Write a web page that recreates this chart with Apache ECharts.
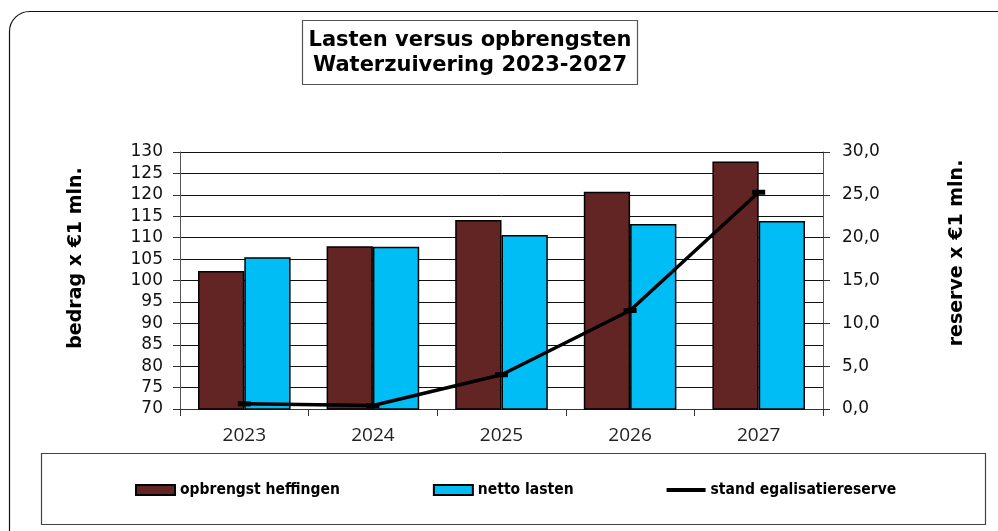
<!DOCTYPE html>
<html>
<head>
<meta charset="utf-8">
<script src="https://cdn.jsdelivr.net/npm/echarts@6/dist/echarts.min.js"></script>
<style>
html,body{margin:0;padding:0;background:#fff;}
#chart{width:998px;height:531px;}
</style>
</head>
<body>
<div id="chart"></div>
<script>
const categories = ['2023', '2024', '2025', '2026', '2027'];
const opbrengstHeffingen = [102.2, 108.0, 114.1, 120.7, 127.8];
const nettoLasten = [105.4, 107.9, 110.6, 113.2, 113.9];
const standEgalisatiereserve = [0.6, 0.4, 4.0, 11.5, 25.3];
const seriesNames = ['opbrengst heffingen', 'netto lasten', 'stand egalisatiereserve'];
const titleText = 'Lasten versus opbrengsten\nWaterzuivering 2023-2027';
const leftAxisName = 'bedrag x €1 mln.';
const rightAxisName = 'reserve x €1 mln.';

const chart = echarts.init(document.getElementById('chart'));
const axisFont = 'DejaVu Sans, Verdana, sans-serif';

chart.setOption({
  backgroundColor: '#ffffff',
  animation: false,
  graphic: [
    {
      type: 'rect', z: -10, silent: true,
      shape: { x: 9.5, y: 11.5, width: 1100, height: 700, r: 20 },
      style: { fill: 'none', stroke: '#111', lineWidth: 1.2 }
    },
    {
      type: 'rect', z: -10, silent: true,
      shape: { x: 302.5, y: 20.5, width: 335, height: 64 },
      style: { fill: '#fff', stroke: '#555', lineWidth: 1.2 }
    },
    {
      type: 'text', silent: true,
      x: 470, y: 53,
      style: { text: titleText, fontFamily: axisFont, fontWeight: 'bold', fontSize: 21, lineHeight: 25, fill: '#000', textAlign: 'center', textVerticalAlign: 'middle' }
    },
    {
      type: 'rect', z: -10, silent: true,
      shape: { x: 41.5, y: 453.5, width: 944, height: 71 },
      style: { fill: 'none', stroke: '#444', lineWidth: 1.2 }
    },
    {
      type: 'text', silent: true,
      x: 76, y: 258, rotation: Math.PI / 2,
      style: { text: leftAxisName, fontFamily: axisFont, fontWeight: 'bold', fontSize: 19, fill: '#000', textAlign: 'center', textVerticalAlign: 'middle' }
    },
    {
      type: 'text', silent: true,
      x: 957, y: 253, rotation: Math.PI / 2,
      style: { text: rightAxisName, fontFamily: axisFont, fontWeight: 'bold', fontSize: 19, fill: '#000', textAlign: 'center', textVerticalAlign: 'middle' }
    }
  ],
  legend: {
    left: 135,
    top: 482,
    padding: 0,
    itemGap: 93,
    itemWidth: 39,
    itemHeight: 10,
    textStyle: { fontFamily: 'DejaVu Sans Condensed, DejaVu Sans, sans-serif', fontWeight: 'bold', fontSize: 15.5, color: '#000' },
    data: [
      { name: seriesNames[0], icon: 'rect' },
      { name: seriesNames[1], icon: 'rect' },
      { name: seriesNames[2], icon: 'path://M0,0 L40,0 L40,4 L0,4 Z', itemStyle: { color: '#000', borderWidth: 0 } }
    ]
  },
  grid: { left: 180, right: 175, top: 152, bottom: 122, containLabel: false },
  xAxis: {
    type: 'category',
    data: categories,
    axisLine: { lineStyle: { color: '#333', width: 1 } },
    axisTick: { show: true, length: 7, lineStyle: { color: '#333' } },
    axisLabel: { fontFamily: 'Open Sans, sans-serif', fontSize: 19, color: '#222', margin: 17 }
  },
  yAxis: [
    {
      type: 'value', min: 70, max: 130, interval: 5,
      axisLine: { show: true, lineStyle: { color: '#555', width: 1 } },
      axisTick: { show: true, length: 7, lineStyle: { color: '#333' } },
      splitLine: { show: true, lineStyle: { color: '#111', width: 1 } },
      axisLabel: { fontFamily: axisFont, fontSize: 17, color: '#111', margin: 17 }
    },
    {
      type: 'value', min: 0, max: 30, interval: 5,
      axisLine: { show: true, lineStyle: { color: '#555', width: 1 } },
      axisTick: { show: true, length: 7, lineStyle: { color: '#333' } },
      splitLine: { show: false },
      axisLabel: {
        fontFamily: axisFont, fontSize: 17, color: '#111', margin: 19,
        formatter: v => v.toFixed(1).replace('.', ',')
      }
    }
  ],
  series: [
    {
      name: seriesNames[0], type: 'bar', data: opbrengstHeffingen,
      barGap: '0%', barCategoryGap: '28%',
      itemStyle: { color: '#632523', borderColor: '#000', borderWidth: 1.5 }
    },
    {
      name: seriesNames[1], type: 'bar', data: nettoLasten,
      barGap: '0%', barCategoryGap: '28%',
      itemStyle: { color: '#00BEF5', borderColor: '#000', borderWidth: 1.5 }
    },
    {
      name: seriesNames[2], type: 'line', yAxisIndex: 1, data: standEgalisatiereserve,
      z: 5,
      symbol: 'rect', symbolSize: [13, 5], showAllSymbol: true,
      lineStyle: { color: '#000', width: 3.5 },
      itemStyle: { color: '#000' }
    }
  ]
});
</script>
</body>
</html>
